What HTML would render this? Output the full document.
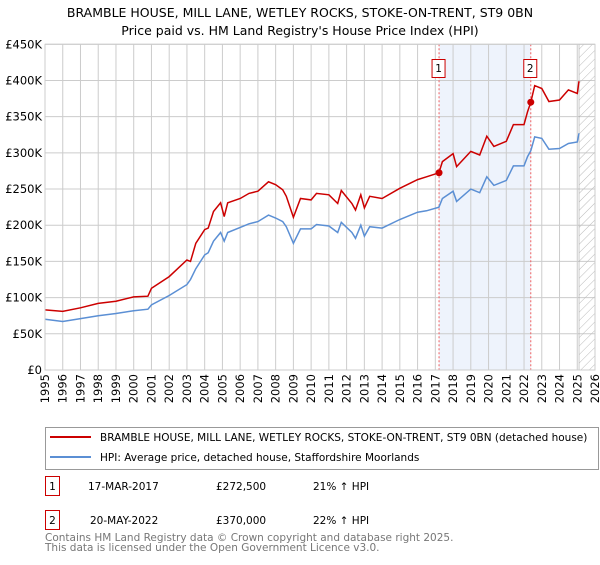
<!DOCTYPE html>
<html><head><meta charset="utf-8"><style>
body{margin:0;background:#fff;font-family:"Liberation Sans","DejaVu Sans",sans-serif;}
svg text{font-family:"DejaVu Sans","Liberation Sans",sans-serif;}
</style></head><body>
<svg width="600" height="560" viewBox="0 0 600 560">
<defs><pattern id="hatch" width="6" height="6" patternUnits="userSpaceOnUse" patternTransform="rotate(45)"><line x1="0" y1="0" x2="0" y2="6" stroke="#bbb" stroke-width="1"/></pattern></defs>
<text x="300" y="17" text-anchor="middle" font-size="12.5">BRAMBLE HOUSE, MILL LANE, WETLEY ROCKS, STOKE-ON-TRENT, ST9 0BN</text>
<text x="300" y="35" text-anchor="middle" font-size="12.5">Price paid vs. HM Land Registry's House Price Index (HPI)</text>
<g id="plot"></g>
<g id="legend">
<rect x="45.5" y="427.5" width="553" height="42" fill="#fff" stroke="#999"/>
<line x1="50" y1="437" x2="91" y2="437" stroke="#cc0000" stroke-width="2"/>
<text x="100" y="441" font-size="10.5">BRAMBLE HOUSE, MILL LANE, WETLEY ROCKS, STOKE-ON-TRENT, ST9 0BN (detached house)</text>
<line x1="50" y1="457" x2="91" y2="457" stroke="#5b8fd4" stroke-width="2"/>
<text x="100" y="461" font-size="10.5">HPI: Average price, detached house, Staffordshire Moorlands</text>
</g>
<g font-size="10.5">
<rect x="45.5" y="476.5" width="14" height="19" fill="#fff" stroke="#cc0000"/><text x="52.5" y="490" text-anchor="middle">1</text>
<text x="88" y="490">17-MAR-2017</text><text x="216" y="490">£272,500</text><text x="313" y="490">21% ↑ HPI</text>
<rect x="45.5" y="510.5" width="14" height="19" fill="#fff" stroke="#cc0000"/><text x="52.5" y="524" text-anchor="middle">2</text>
<text x="90" y="524">20-MAY-2022</text><text x="216" y="524">£370,000</text><text x="313" y="524">22% ↑ HPI</text>
</g>
<text x="45" y="541" font-size="10.5" fill="#777">Contains HM Land Registry data © Crown copyright and database right 2025.</text>
<text x="45" y="551" font-size="10.5" fill="#777">This data is licensed under the Open Government Licence v3.0.</text>
</svg>
<script>
const propYears=[1995,1996,1997,1998,1999,2000,2000.8,2001,2002,2003,2003.2,2003.5,2004,2004.2,2004.5,2004.9,2005.1,2005.3,2006,2006.5,2007,2007.6,2008,2008.4,2008.6,2009,2009.4,2010,2010.3,2011,2011.5,2011.7,2012.3,2012.5,2012.8,2013,2013.3,2014,2015,2016,2016.5,2017.2,2017.4,2018,2018.2,2019,2019.5,2019.9,2020.3,2021,2021.4,2022,2022.2,2022.38,2022.6,2023,2023.4,2024,2024.5,2025,2025.1];
const propValues=[83,81,86,92,95,101,102,113,129,152,150,175,194,196,219,231,212,231,237,244,247,260,256,249,240,211,237,235,244,242,230,248,230,221,242,224,240,237,251,263,267,272.5,288,299,281,302,297,323,309,316,339,339,357,370,393,389,371,373,387,382,399];
const hpiValues=[70,67,71,75,78,82,84,90,103,118,125,140,159,162,178,190,178,190,197,202,205,214,210,205,198,175,195,195,201,199,190,204,190,182,200,185,198,196,208,218,220,225,237,247,233,250,245,267,255,262,282,282,295,303,322,320,305,306,313,315,327];
const yTicks=[0,50,100,150,200,250,300,350,400,450];
const sales=[{label:"1",year:2017.21,value:272.5},{label:"2",year:2022.38,value:370}];
const X0=45,X1=595,Y0=370,Y1=44.3,YR0=1995,YR1=2026;
const xs=y=>X0+(y-YR0)/(YR1-YR0)*(X1-X0);
const ys=v=>Y0-v/450*(Y0-Y1);
const NS="http://www.w3.org/2000/svg";
const g=document.getElementById('plot');
function mk(t,a){const e=document.createElementNS(NS,t);for(const k in a)e.setAttribute(k,a[k]);g.appendChild(e);return e;}
let r=mk('rect',{x:xs(2017.21),y:Y1,width:xs(2022.38)-xs(2017.21),height:Y0-Y1,fill:'#eef3fc'});

for(let y=YR0;y<=YR1;y++){let l=mk('line',{x1:xs(y),x2:xs(y),y1:Y1,y2:Y0,stroke:'#ccc','stroke-width':1});
}
yTicks.forEach(v=>{let l=mk('line',{x1:X0,x2:X1,y1:ys(v),y2:ys(v),stroke:'#ccc','stroke-width':1});

let t=mk('text',{x:X0-3,y:ys(v)+4,'text-anchor':'end','font-size':'11.5'});t.textContent='£'+(v?v+'K':'0');
});
let h=mk('rect',{x:xs(2025.1),y:Y1,width:X1-xs(2025.1),height:Y0-Y1,fill:'url(#hatch)',stroke:'#999','stroke-width':0.5});

for(let y=YR0;y<=YR1;y++){let t=mk('text',{x:0,y:0,'text-anchor':'end','font-size':'11.5',transform:`translate(${xs(y)+4},374) rotate(-90)`});t.textContent=y;
}
sales.forEach(s=>{let l=mk('line',{x1:xs(s.year),x2:xs(s.year),y1:Y1,y2:Y0,stroke:'#f06060','stroke-dasharray':'2,2','stroke-width':1});

let b=mk('rect',{x:xs(s.year)-7,y:59.5,width:13,height:18,fill:'#fff',stroke:'#cc0000'});

let t=mk('text',{x:xs(s.year)-0.5,y:72,'text-anchor':'middle','font-size':'10.5'});t.textContent=s.label;
});
const pts=vals=>propYears.map((y,i)=>xs(y).toFixed(1)+','+ys(vals[i]).toFixed(1)).join(' ');
let hp=mk('polyline',{points:pts(hpiValues),fill:'none',stroke:'#5b8fd4','stroke-width':1.5});

let pp=mk('polyline',{points:pts(propValues),fill:'none',stroke:'#cc0000','stroke-width':1.5});

sales.forEach(s=>{let c=mk('circle',{cx:xs(s.year),cy:ys(s.value),r:3.5,fill:'#cc0000'});
});
let ax=mk('rect',{x:X0,y:Y1,width:X1-X0,height:Y0-Y1,fill:'none',stroke:'#ccc'});

</script>
</body></html>
